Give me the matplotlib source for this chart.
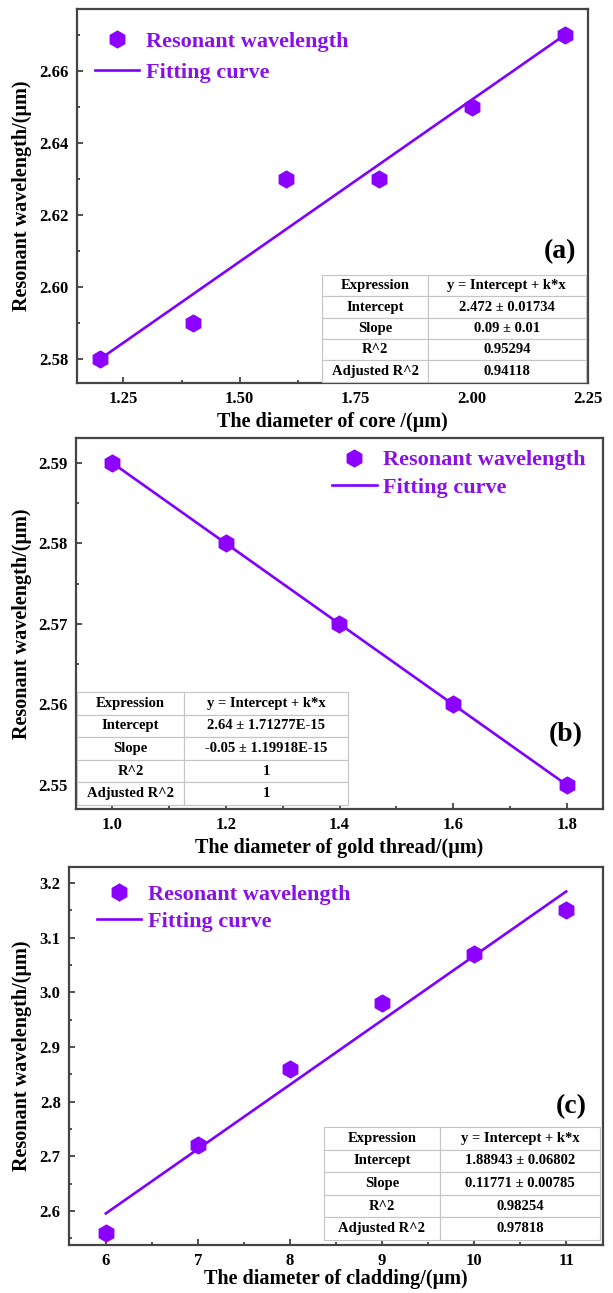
import numpy as np
import matplotlib
matplotlib.use("Agg")
import matplotlib.pyplot as plt
from matplotlib.ticker import MultipleLocator, FormatStrFormatter

plt.rcParams['font.family'] = ['Liberation Serif', 'DejaVu Serif']
plt.rcParams['font.weight'] = 'bold'
plt.rcParams['axes.labelweight'] = 'bold'

# (a) core diameter
core_d = [1.2, 1.4, 1.6, 1.8, 2.0, 2.2]
core_wl = [2.58, 2.59, 2.63, 2.63, 2.65, 2.67]
core_fit = (2.472, 0.09)
core_table = [["Expression", "y = Intercept + k*x"],
              ["Intercept", "2.472 \u00b1 0.01734"],
              ["Slope", "0.09 \u00b1 0.01"],
              ["R^2", "0.95294"],
              ["Adjusted R^2", "0.94118"]]

# (b) gold thread diameter
gold_d = [1.0, 1.2, 1.4, 1.6, 1.8]
gold_wl = [2.59, 2.58, 2.57, 2.56, 2.55]
gold_fit = (2.64, -0.05)
gold_table = [["Expression", "y = Intercept + k*x"],
              ["Intercept", "2.64 \u00b1 1.71277E-15"],
              ["Slope", "-0.05 \u00b1 1.19918E-15"],
              ["R^2", "1"],
              ["Adjusted R^2", "1"]]

# (c) cladding diameter
clad_d = [6, 7, 8, 9, 10, 11]
clad_wl = [2.56, 2.72, 2.86, 2.98, 3.07, 3.15]
clad_fit = (1.88943, 0.11771)
clad_table = [["Expression", "y = Intercept + k*x"],
              ["Intercept", "1.88943 \u00b1 0.06802"],
              ["Slope", "0.11771 \u00b1 0.00785"],
              ["R^2", "0.98254"],
              ["Adjusted R^2", "0.97818"]]

MARK = '#8b00ff'
LINE = '#7f00ff'
TXT = '#8a10e8'

W, H = 613, 1293
fig = plt.figure(figsize=(W / 100, H / 100), dpi=100)


def px_axes(l, r, t, b):
    return fig.add_axes([l / W, 1 - b / H, (r - l) / W, (b - t) / H])


def panel(ax, x, y, fit, table, xlabel, tag, xlim, ylim, xmaj, ymaj, yfmt, xfmt,
          leg_anchor, leg_spacing, tab_bbox, col_w, tag_pos, ylab_x, xlab_y):
    xs = np.array([x[0], x[-1]])
    ax.plot(xs, fit[0] + fit[1] * xs, color=LINE, lw=1.9, label='Fitting curve', zorder=2)
    ax.plot(x, y, 'h', color=MARK, ms=12, ls='none', label='Resonant wavelength', zorder=3)
    ax.set_xlim(*xlim)
    ax.set_ylim(*ylim)
    ax.xaxis.set_major_locator(MultipleLocator(xmaj))
    ax.xaxis.set_minor_locator(MultipleLocator(xmaj / 2))
    ax.yaxis.set_major_locator(MultipleLocator(ymaj))
    ax.yaxis.set_minor_locator(MultipleLocator(ymaj / 2))
    ax.xaxis.set_major_formatter(FormatStrFormatter(xfmt))
    ax.yaxis.set_major_formatter(FormatStrFormatter(yfmt))
    ax.tick_params(which='both', direction='in', top=False, right=False,
                   width=1.2, color='#333333', labelsize=12)
    ax.tick_params(which='major', length=4.5, pad=6)
    ax.tick_params(which='minor', length=2.5)
    for s in ax.spines.values():
        s.set_linewidth(1.6)
        s.set_color('#444444')
    ax.set_xlabel(xlabel, fontsize=14.5)
    ax.set_ylabel('Resonant wavelength/(\u03bcm)', fontsize=14.5)
    ax.yaxis.set_label_coords(ylab_x, 0.5)
    ax.xaxis.set_label_coords(0.5, xlab_y)

    handles, labels = ax.get_legend_handles_labels()
    ax.legend(handles[::-1], labels[::-1], loc='upper left', bbox_to_anchor=leg_anchor,
              frameon=False, labelcolor=TXT, handlelength=2.0,
              handletextpad=0.3, labelspacing=leg_spacing, borderpad=0,
              borderaxespad=0, prop={'weight': 'bold', 'size': 16})

    tb = ax.table(cellText=table, colWidths=col_w, cellLoc='center', bbox=tab_bbox, zorder=5)
    tb.auto_set_font_size(False)
    tb.set_fontsize(10.5)
    for cell in tb.get_celld().values():
        cell.set_edgecolor('#c4c4c4')
        cell.set_linewidth(0.8)
        cell.set_facecolor('white')
        cell.get_text().set_fontweight('bold')

    ax.text(tag_pos[0], tag_pos[1], tag, transform=ax.transAxes, fontsize=20,
            fontweight='bold', ha='center', va='center')


ax1 = px_axes(77, 588, 9, 383)
panel(ax1, core_d, core_wl, core_fit, core_table, 'The diameter of core /(\u03bcm)', '(a)',
      (1.15, 2.25), (2.5733, 2.6772), 0.25, 0.02, '%.2f', '%.2f',
      (0.035, 0.94), 0.45, [0.48, 0.003, 0.516, 0.286], [0.40, 0.60],
      (0.945, 0.35), -0.088, -0.078)

ax2 = px_axes(76, 603, 438, 809)
panel(ax2, gold_d, gold_wl, gold_fit, gold_table, 'The diameter of gold thread/(\u03bcm)', '(b)',
      (0.936, 1.864), (2.547, 2.5931), 0.2, 0.01, '%.2f', '%.1f',
      (0.486, 0.968), 0.3, [0.002, 0.011, 0.514, 0.304], [0.395, 0.605],
      (0.93, 0.2), -0.0835, -0.078)

ax3 = px_axes(69, 603, 867, 1245)
panel(ax3, clad_d, clad_wl, clad_fit, clad_table, 'The diameter of cladding/(\u03bcm)', '(c)',
      (5.6, 11.4), (2.538, 3.229), 1, 0.1, '%.1f', '%d',
      (0.052, 0.955), 0.3, [0.4775, 0.013, 0.517, 0.299], [0.42, 0.58],
      (0.94, 0.365), -0.069, -0.063)

fig.savefig('out.png', dpi=100)
